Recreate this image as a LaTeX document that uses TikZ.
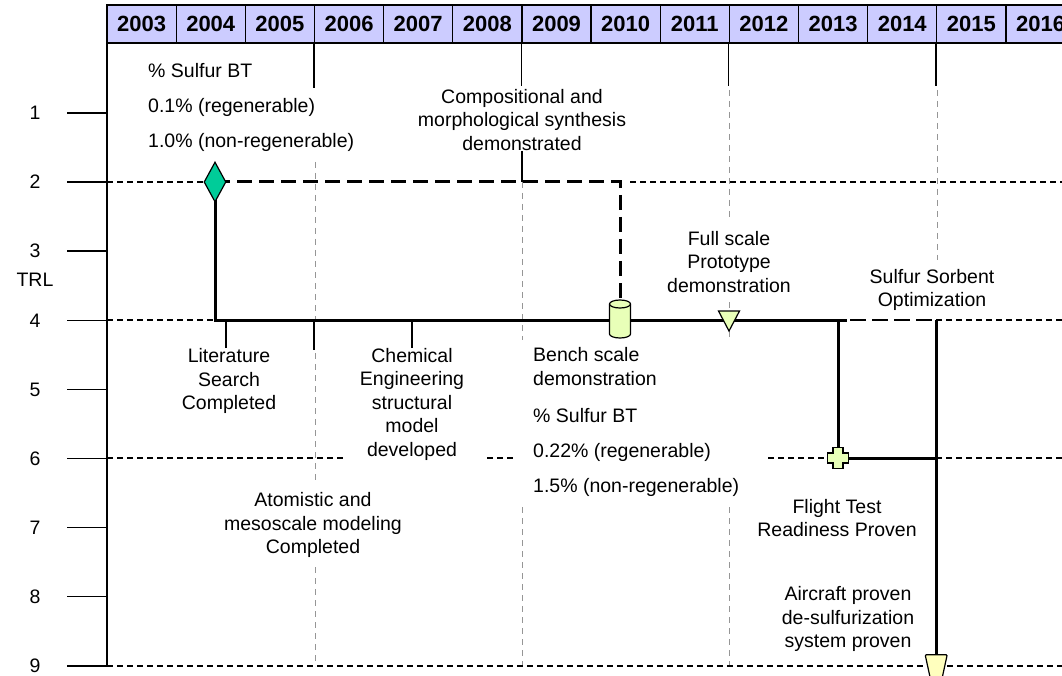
\documentclass[tikz,border=0pt]{standalone}
\usepackage{fontspec}
\setmainfont{Liberation Sans}
\usetikzlibrary{shapes.geometric}

\definecolor{yearblue}{RGB}{204,204,255}
\definecolor{milegreen}{RGB}{0,204,153}
\definecolor{paleleaf}{RGB}{232,255,184}
\definecolor{paleyellow}{RGB}{255,255,190}
\definecolor{gridgray}{RGB}{150,150,150}

\begin{document}
\begin{tikzpicture}[x=1pt, y=-1pt,
  every node/.style={font=\fontsize{19.5}{23.5}\selectfont, inner sep=0pt},
  yearcell/.style={draw, line width=1.3pt, fill=yearblue, minimum width=69.15pt,
    minimum height=38pt, font=\bfseries\fontsize{22}{26}\selectfont},
  axisline/.style={line width=1.4pt},
  leader/.style={line width=1.4pt},
  levelline/.style={line width=1.1pt, dash pattern=on 6pt off 4pt},
  gridline/.style={gridgray, line width=1pt, dash pattern=on 6pt off 5pt},
  track/.style={line width=3pt},
  plan/.style={line width=3pt, dash pattern=on 15pt off 7pt},
  sorbline/.style={line width=2pt, dash pattern=on 16pt off 6pt},
  markline/.style={draw, line width=1.2pt}]

\useasboundingbox (0,0) rectangle (1062,676);

% Year header
\foreach \yr [count=\i from 0] in {2003,...,2016}
  \node[yearcell] (y\yr) at ({141.6+69.15*\i}, 24) {\yr};

% TRL axis with its ticks
\draw[axisline] (107,43) -- (107,666);
\foreach \lv in {1,...,9} {
  \pgfmathsetmacro\ylv{113+69.1*(\lv-1)}
  \coordinate (l\lv) at (107,\ylv);
  \draw[axisline] (l\lv) -- ++(-40,0);
  \node (t\lv) at (35,\ylv) {\lv};
}
\node (trl) at (35,280) {TRL};

% Gray year grid, broken where the texts sit
\foreach \x/\a/\b in {315/162/320, 315/353/480, 315/567/666,
                      522/182/340, 522/507/666,
                      729/90/220, 729/302/310, 729/331/342, 729/507/666,
                      937/90/260}
  \draw[gridline] (\x,\a) -- (\x,\b);

% Dashed TRL levels
\foreach \a/\b/\y in {107/204/182, 630/1062/182,
                      107/215/320, 936/1062/320,
                      107/345/458, 487/515/458, 768/828/458, 936/1062/458,
                      107/1062/666}
  \draw[levelline] (\a,\y) -- (\b,\y);

% Texts
\node[align=left, anchor=west] (sulfurA) at (148,107)
  {\% Sulfur BT\\[11.5pt]0.1\% (regenerable)\\[11.5pt]1.0\% (non-regenerable)};
\node[align=center] (compTxt) at (522,120) {Compositional and\\morphological synthesis\\demonstrated};
\node[align=center] (protoTxt) at (729,262) {Full scale\\Prototype\\demonstration};
\node[align=center] (sorbTxt) at (932,290) {Sulfur Sorbent\\Optimization};
\node[align=center] (litTxt) at (229,381) {Literature\\Search\\Completed};
\node[align=center] (chemTxt) at (412,404) {Chemical\\Engineering\\structural\\model\\developed};
\node[align=left, anchor=west] (benchTxt) at (533,422)
  {Bench scale\\demonstration\\[14pt]\% Sulfur BT\\[11.5pt]0.22\% (regenerable)\\[11.5pt]1.5\% (non-regenerable)};
\node[align=center] (atomTxt) at (313,525) {Atomistic and\\mesoscale modeling\\Completed};
\node[align=center] (flightTxt) at (837,518) {Flight Test\\Readiness Proven};
\node[align=center] (aircraftTxt) at (848,619) {Aircraft proven\\de-sulfurization\\system proven};

% Leaders
\draw[leader] (y2006.south west) -- ++(0,44);
\draw[leader] (y2009.south west) -- ++(0,42);
\draw[leader] (y2012.south west) -- ++(0,42);
\draw[leader] (y2015.south west) -- ++(0,42);
\draw[leader] (compTxt.south) -- (compTxt.south |- l2);
\draw[leader] ([xshift=-3pt]litTxt.north) -- ([xshift=-3pt]litTxt.north |- l4);
\draw[leader] (chemTxt.north) -- (chemTxt.north |- l4);
\draw[leader] (y2006.south west |- l4) -- ++(0,30);

% Milestone path
\coordinate (m2004) at (215,182);
\coordinate (m2010) at (620,319);
\coordinate (m2011) at (729,320);
\coordinate (m2013) at (838,458);
\coordinate (m2015) at (y2015.south west |- l9);

\draw[plan] (m2004) -- (m2004 -| m2010) -- (m2010);
\draw[track] (m2004) -- (m2004 |- l4) -- ([xshift=9pt]m2013 |- l4);
\draw[track] (m2013 |- l4) -- (m2013) -- (m2013 -| m2015);
\draw[track] (m2015 |- l4) -- (m2015);
\draw[sorbline] (m2013 |- l4) ++(12,0) -- (m2015 |- l4);

% Milestone marks
\node[diamond, markline, fill=milegreen, minimum width=22pt, minimum height=40pt] (lit) at (m2004) {};
% bench scale cylinder
\filldraw[markline, fill=paleleaf, shift={(m2010)}]
  (-10.5,-15) -- (-10.5,15) arc[start angle=180, end angle=0, x radius=10.5, y radius=4]
  -- (10.5,-15) arc[start angle=0, end angle=-180, x radius=10.5, y radius=4] -- cycle;
\draw[markline, shift={(m2010)}] (-10.5,-15) arc[start angle=180, end angle=0, x radius=10.5, y radius=4];
% prototype triangle
\filldraw[markline, fill=paleleaf, shift={(m2011)}] (-10.5,-9) -- (10.5,-9) -- (0,11) -- cycle;
% flight test cross
\filldraw[markline, fill=paleleaf, shift={(m2013)}]
  (-5,-10.5) -- (5,-10.5) -- (5,-5) -- (10.5,-5) -- (10.5,5) -- (5,5) -- (5,10.5)
  -- (-5,10.5) -- (-5,5) -- (-10.5,5) -- (-10.5,-5) -- (-5,-5) -- cycle;
% aircraft trapezium
\filldraw[markline, fill=paleyellow, shift={(m2015)}, rounded corners=1pt]
  (-11,-11) -- (11,-11) -- (6,12) -- (-6,12) -- cycle;

\end{tikzpicture}
\end{document}
